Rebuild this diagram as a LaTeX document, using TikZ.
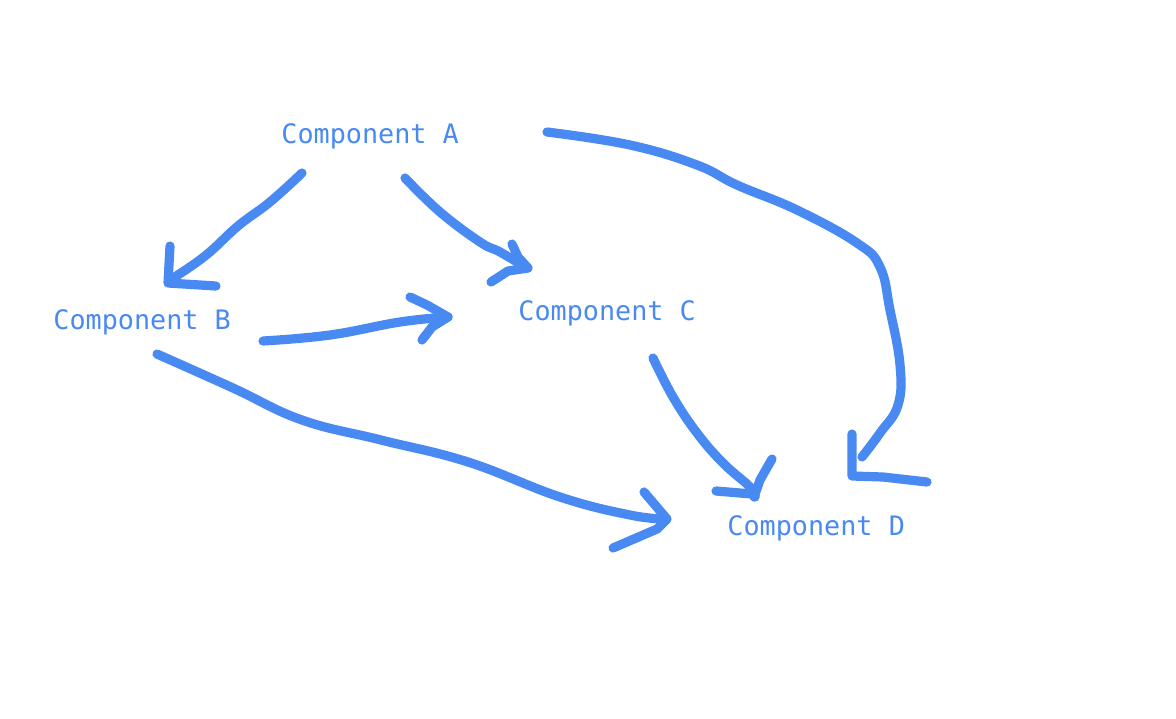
\documentclass[tikz,border=0pt]{standalone}
\usepackage{fontspec}
\setmonofont{DejaVu Sans Mono}
\definecolor{pen}{RGB}{72,137,242}
\begin{document}
\begin{tikzpicture}[x=0.5pt,y=-0.5pt,
  lbl/.style={anchor=base west,inner sep=0pt,text=pen,font=\ttfamily\fontsize{13.4pt}{15pt}\selectfont},
  ink/.style={draw=pen,line width=4.6pt,line cap=round,line join=round}]
\useasboundingbox (0,0) rectangle (1176,718);
\node[lbl] (A) at (281,143) {Component A};
\node[lbl] (B) at (53,329) {Component B};
\node[lbl] (C) at (518,320) {Component C};
\node[lbl] (D) at (727,535) {Component D};
% A -> B
\draw[ink] plot[smooth,tension=0.7] coordinates {(302,173) (270,202) (238,226) (205,256) (170,280)};
\draw[ink] (170,246) -- (168,283) -- (216,286);
% A -> C
\draw[ink] plot[smooth,tension=0.7] coordinates {(405,178) (440,212) (480,242) (500,252) (527,268)};
\draw[ink] (512,244) -- (518,257) -- (528,268) -- (508,271) -- (491,282);
% B -> C
\draw[ink] plot[smooth,tension=0.7] coordinates {(263,341) (330,335) (400,322) (448,317)};
\draw[ink] (410,297) -- (427,305) -- (448,317) -- (432,327) -- (422,340);
% B -> D
\draw[ink] plot[smooth,tension=0.7] coordinates {(157,354) (233,388) (302,420) (381,440) (468,462) (560,497) (630,515) (666,519)};
\draw[ink] (644,492) -- (667,519) -- (657,529) -- (613,548);
% C -> D
\draw[ink] plot[smooth,tension=0.7] coordinates {(653,358) (673,397) (697,433) (723,463) (750,487) (755,497)};
\draw[ink] (772,459) -- (760,480) -- (754,497);
\draw[ink] (716,491) -- (752,494);
% A -> D
\draw[ink] plot[smooth,tension=0.7] coordinates {(547,132) (630,145) (697,165) (737,185) (797,210) (857,243) (880,267) (890,310) (900,365) (898,405) (880,433) (862,457)};
\draw[ink] (852,434) -- (852,476) -- (883,477) -- (927,482);
\end{tikzpicture}
\end{document}
